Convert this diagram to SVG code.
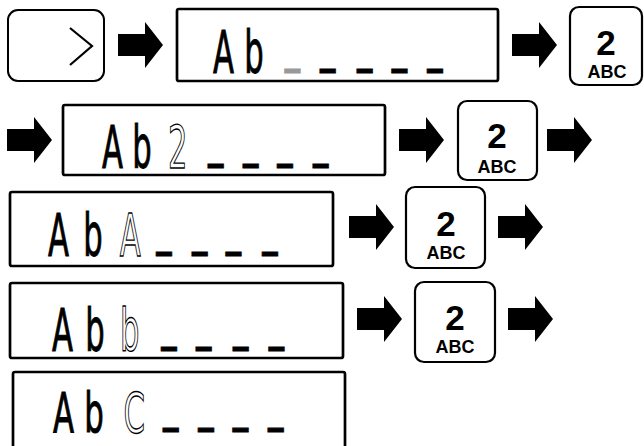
<svg xmlns="http://www.w3.org/2000/svg" xmlns:xlink="http://www.w3.org/1999/xlink" width="644" height="446" viewBox="0 0 644 446">
<style>
.disp{fill:#fff;stroke:#000;stroke-width:2.7}
.key{fill:#fff;stroke:#000;stroke-width:2.2}
.lcd{font-family:"DejaVu Sans",sans-serif;font-size:59px;fill:#000;stroke:#000;stroke-width:1;vector-effect:non-scaling-stroke}
.hollow{fill:#fff;stroke:#000;stroke-width:1.1;vector-effect:non-scaling-stroke}
.k2{font-family:"Liberation Sans",Arial,sans-serif;font-weight:bold;font-size:35px;text-anchor:middle;fill:#000}
.kabc{font-family:"Liberation Sans",Arial,sans-serif;font-weight:bold;font-size:18px;text-anchor:middle;fill:#000}
.arr{fill:#000}
</style>
<defs>
<path id="arrow" d="M0,-11 H27 V-23 L45,0 L27,23 V11 H0 Z"/>
</defs>
<rect width="644" height="446" fill="#fff"/>

<g id="connectors" class="arr">
<use xlink:href="#arrow" href="#arrow" x="118" y="45"/>
<use xlink:href="#arrow" href="#arrow" x="512" y="45"/>
<use xlink:href="#arrow" href="#arrow" x="7" y="140"/>
<use xlink:href="#arrow" href="#arrow" x="399" y="140"/>
<use xlink:href="#arrow" href="#arrow" x="547" y="140"/>
<use xlink:href="#arrow" href="#arrow" x="349" y="227"/>
<use xlink:href="#arrow" href="#arrow" x="498" y="227"/>
<use xlink:href="#arrow" href="#arrow" x="357" y="319"/>
<use xlink:href="#arrow" href="#arrow" x="508" y="319"/>
</g>

<g id="next-button">
<rect x="8" y="10" width="96" height="71" rx="10" fill="#fff" stroke="#000" stroke-width="2"/>
<polyline points="70,28 92,46 70,65" fill="none" stroke="#000" stroke-width="2.2"/>
</g>

<g id="display1">
<rect class="disp" x="177" y="9" width="321" height="72" rx="2"/>
<text class="lcd" transform="translate(213,73) scale(0.52,1)"><tspan x="0">A</tspan><tspan x="60">b</tspan><tspan x="138" y="-14" fill="#999" stroke="#999">_</tspan><tspan x="206 277 344 412" y="-14">____</tspan></text>
</g>

<g id="key1">
<rect class="key" x="570" y="7" width="72" height="78" rx="9"/>
<text class="k2" x="606" y="55">2</text>
<text class="kabc" x="607" y="78">ABC</text>
</g>

<g id="display2">
<rect class="disp" x="63" y="105" width="322" height="70" rx="2"/>
<text class="lcd" transform="translate(102,168) scale(0.52,1)"><tspan x="0">A</tspan><tspan x="58">b</tspan><tspan x="127" class="hollow">2</tspan><tspan x="204 271 337 406" y="-14">____</tspan></text>
</g>

<g id="key2">
<rect class="key" x="458" y="101" width="79" height="79" rx="9"/>
<text class="k2" x="497" y="148">2</text>
<text class="kabc" x="497" y="173">ABC</text>
</g>

<g id="display3">
<rect class="disp" x="10" y="192" width="323" height="74" rx="2"/>
<text class="lcd" transform="translate(48,256) scale(0.52,1)"><tspan x="0">A</tspan><tspan x="68">b</tspan><tspan x="138" class="hollow">A</tspan><tspan x="208 277 342 412" y="-14">____</tspan></text>
</g>

<g id="key3">
<rect class="key" x="406" y="187" width="79" height="81" rx="9"/>
<text class="k2" x="446" y="236">2</text>
<text class="kabc" x="446" y="259">ABC</text>
</g>

<g id="display4">
<rect class="disp" x="10" y="283" width="333" height="75" rx="2"/>
<text class="lcd" transform="translate(52,351) scale(0.52,1)"><tspan x="0">A</tspan><tspan x="64">b</tspan><tspan x="131" class="hollow">b</tspan><tspan x="210 277 348 417" y="-14">____</tspan></text>
</g>

<g id="key4">
<rect class="key" x="415" y="282" width="80" height="80" rx="9"/>
<text class="k2" x="455" y="330">2</text>
<text class="kabc" x="455" y="353">ABC</text>
</g>

<g id="display5">
<rect class="disp" x="13" y="372" width="332" height="80" rx="2"/>
<text class="lcd" style="font-size:56px" transform="translate(53,432) scale(0.55,1)"><tspan x="0">A</tspan><tspan x="57">b</tspan><tspan x="128" class="hollow">C</tspan><tspan x="200 264 327 391" y="-13">____</tspan></text>
</g>
</svg>
